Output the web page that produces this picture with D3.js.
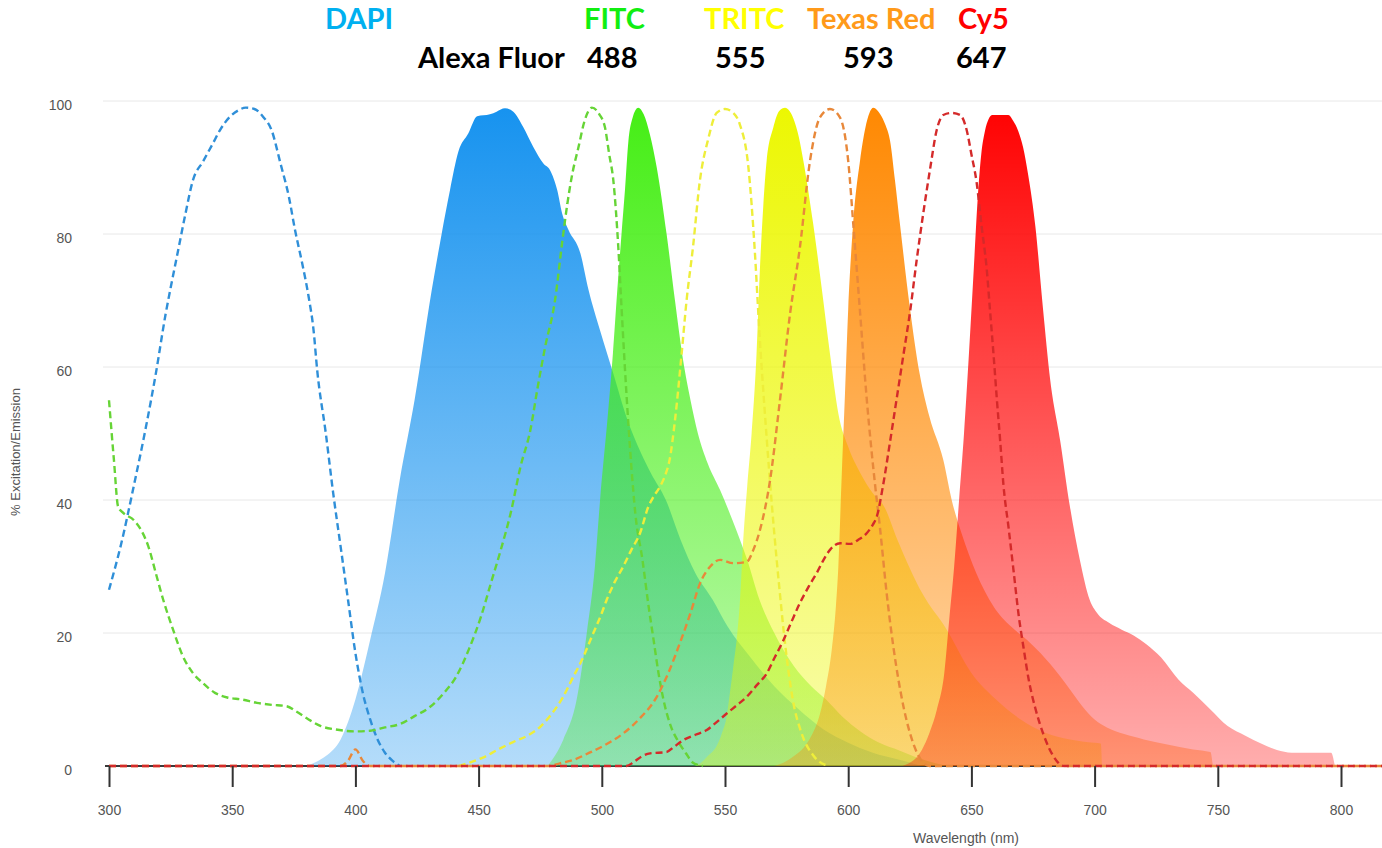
<!DOCTYPE html>
<html>
<head>
<meta charset="utf-8">
<script src="https://cdn.jsdelivr.net/npm/d3@7"></script>
<style>
  body { margin: 0; background: #fff; }
  svg { display: block; font-family: "Liberation Sans", Arial, sans-serif; }
  .head { font-family: Lato, "Open Sans", sans-serif; font-weight: 700; font-size: 29px; }
</style>
</head>
<body>
<svg id="chart" width="1382" height="848"></svg>
<script>
// [wavelength nm, % excitation]
const dapiEx = [[300,26.5],[305,33.5],[310,42],[315,51],[319,59],[323,68],[325.6,73],[328.3,78],[331,83],[334,88],[338.3,91],[342,93.5],[345,95.6],[349,97.6],[352.5,98.6],[355.5,99],[359,98.8],[362.6,97.6],[366,95.6],[369.6,90.6],[373,85.6],[375.5,80.6],[378.4,75.6],[381,70.6],[383,65.6],[384.5,59.5],[388,50],[391,41],[394,33],[397,25],[400,17],[403,11],[406,7],[409,4],[412,2],[415,0.8],[418,0]];
const fitcEx = [[300,55],[302,46],[303.7,39],[306,38],[310,37],[313,35.5],[316,33],[319,29],[322,25],[326,20.5],[330,16.5],[334,14],[338,12.5],[343,11],[348,10.3],[354,10],[360,9.5],[366,9.2],[372,9],[376,8.2],[381,7],[386,6],[392,5.5],[400,5.2],[406,5.3],[412,5.8],[418,6.3],[424,7.5],[430,8.8],[436,11],[441,13.5],[446,17.5],[451,22.5],[455,27.5],[459,32.5],[463,38],[467,45],[471,50.5],[474,57],[477,63],[481,70],[484,79],[486,84.5],[488,89],[490.5,93],[493,97],[496,99],[499,98],[501.3,96],[503,92],[504.7,88],[506.7,78],[508,69],[510,56],[512,45],[513.6,38],[516.5,31],[519,24],[521,19],[523,14],[525,10],[528,6],[531,3.7],[534,2],[537,0.5],[541,0]];
const tritcEx = [[442,0],[447,0.6],[452,1.3],[458,2.5],[464,3.6],[470,4.6],[475,5.9],[480,8],[484,10.2],[488.4,13.4],[492,16],[496,19.5],[500,23],[502,25],[505,27.5],[508.7,30],[512,32.5],[515.5,35],[518.9,39],[521,40.5],[523.6,42],[526,44],[527.5,46],[529.7,52],[532.4,62],[534.4,70],[537,78],[539.8,88],[543.2,94.3],[546.6,98.2],[550,98.8],[553.4,98.2],[556,96.5],[559.5,90],[562,78],[564,65],[566,54],[568,44],[570,35],[572,27],[574.5,18],[577.5,10],[581,5],[586,1.5],[592,0]];
const texasRedEx = [[300,0],[394,0],[397,0.8],[400,2.5],[403,0.8],[406,0],[478,0],[483,0.4],[488.4,0.9],[495,2],[502,3.3],[508.7,4.9],[515,7],[522.3,10.4],[527,14],[531.7,18.5],[536,23],[539.9,27.5],[544,30],[548,31],[553.4,30.5],[558.8,30.7],[561.5,32.5],[564.2,35.5],[568.3,43],[572.3,55],[576.4,68],[580.4,78],[584.5,91],[588.5,97.5],[592.6,98.8],[596.7,97.5],[600,91],[602.1,81.3],[604.8,68.3],[607.5,55.3],[610.9,42.3],[612.9,35.8],[615.6,26],[618.3,18],[622.4,9],[626.4,3.4],[630.5,0.5],[633,0],[817,0]];
const cy5Ex = [[300,0],[510,0],[513,0.6],[516,1.4],[519.6,1.9],[526.3,2.1],[529,2.8],[533.1,3.9],[538,4.7],[542.6,5.4],[546,6.4],[550.7,7.9],[555,9.2],[558.8,10.4],[563,12.2],[566.9,13.9],[570,16.2],[573.7,18.9],[577,21.7],[580.4,24.5],[584,27],[587.2,29],[590,31],[592.6,32.5],[596.7,33.5],[600.7,33.4],[604,34],[607.5,35],[610,36.3],[611.6,37.5],[614.2,42.3],[617,48.8],[619.7,55.3],[622.4,61.8],[625.1,68.3],[627.8,76.1],[630.5,83.2],[633.2,89.7],[635.9,95.6],[638.6,97.9],[642,98.2],[645.4,97.9],[648.1,95.6],[650,92],[652.1,87.8],[654.1,81.3],[656.2,74.8],[657.6,68.3],[659,61.8],[660.3,55.3],[661.7,48.8],[663,42.3],[665.1,35.8],[667.1,29.4],[669.1,22.9],[671.2,17.7],[673.2,13.1],[676,8.6],[679.3,4.7],[683.4,1.4],[687.5,0],[817,0]];

// [wavelength nm, % emission]
const dapiEm = [[380,0],[384,0.6],[388,1.5],[394,4],[400,10],[406,19],[412,29],[418,43],[424,55],[431,71.6],[435,80],[438.4,86.6],[441.8,92.4],[445.8,95.1],[449.4,97.7],[454.6,98],[457.3,98.4],[460.7,98.9],[464.1,98.4],[468.1,96.1],[472.2,93.1],[476.3,90.6],[479,89.6],[481.9,86.6],[483.9,83.1],[486.5,80.6],[491.3,77.1],[494.6,71.6],[499.3,65.5],[504.7,59],[510,52.5],[516,47],[520,44],[526,40],[532,34],[538,29],[545,25],[551,21],[560,16.5],[570,12],[580,8.5],[590,5.5],[600,3.5],[610,2],[620,1],[630,0]];
const fitcEm = [[478,0],[480,1],[484.4,4],[489.8,10],[493.9,20],[497.2,30],[499.3,40],[502.5,53],[504.5,62],[506.3,71.6],[508,80],[509.4,86.6],[510.8,94],[512.5,97.5],[514.8,99],[517,98],[519.5,95],[522.3,90],[526.3,80],[529.7,70],[533,61],[536,55],[539,50],[543,45.5],[548,41.5],[553,37],[559,31],[564,25],[570,20],[578,15],[585,12],[591,10],[598,7.3],[605,5.2],[612,3.6],[621,2.3],[630,1],[640,0]];
const tritcEm = [[538,0],[540,0.4],[543,1.5],[546.6,3],[548.8,5],[550.7,7.5],[552,11],[553.4,15],[555,20],[556.1,25],[557.4,34],[559,42],[560.8,50],[562.8,62],[564.2,75],[565.5,84],[566.9,91],[569.6,96],[572,98.5],[574.4,99],[577,98],[580,94.5],[581.8,91],[585.8,81.5],[589.2,72],[592.6,62],[596,53],[600,48],[605,44],[610,41],[614.6,39],[620,34],[630,26],[640,20.5],[650,14],[660,10],[670,7],[680,5],[690,4],[700,3.5],[702.5,3.4],[703,0]];
const texasRedEm = [[570,0],[573.7,0.5],[578,1.5],[581.8,2.7],[585,4.5],[588.5,7.8],[591,12],[593.3,17.4],[595,24],[596,30],[597.3,43],[598.7,56],[600,68.7],[602,81.5],[604.8,91],[607,96],[610.2,99],[613,98],[615,96.5],[617,94],[619,88],[621,81.5],[625,69],[629,59],[633,52.5],[638.6,46],[642,40],[646,35],[652,29],[659,24],[666,21],[672.5,19],[678,17],[686,13.5],[690,11.5],[695,9],[700,7],[705,5.8],[712,4.8],[720,4],[730,3.2],[740,2.5],[747,2.1],[748,0]];
const cy5Em = [[622,0],[624,0.3],[627,1],[630,2.5],[633,5],[636,8.5],[639,14],[641,22],[643,30],[645,40],[647,50],[649,62],[651,75],[652.5,85],[654,92],[655.5,95.5],[657,97.3],[658.5,97.9],[665,97.9],[667,97],[669,95.5],[671,93],[673,89],[676,81],[679,69],[682,58],[686,49],[690,39],[694,31],[698,25],[701,23],[706,21.5],[711,20.5],[716,19.6],[721,18.3],[727,16.3],[734,13],[740,11],[747,8.5],[754,6],[761,4.6],[768,3.3],[774,2.4],[780,2],[796,2],[797.5,0]];

const xTicks = [300, 350, 400, 450, 500, 550, 600, 650, 700, 750, 800];
const yTicks = [0, 20, 40, 60, 80, 100];
const dyeNames = ["DAPI", "FITC", "TRITC", "Texas Red", "Cy5"];
const alexaNames = ["Alexa Fluor", "488", "555", "593", "647"];

const svg = d3.select("#chart");

const x = d3.scaleLinear().domain([300, 800]).range([109, 1341]);
const y = d3.scaleLinear().domain([0, 100]).range([766, 101]);

// gridlines
svg.append("g")
  .selectAll("line")
  .data(yTicks.filter(d => d > 0))
  .join("line")
  .attr("x1", 103).attr("x2", 1382)
  .attr("y1", d => y(d)).attr("y2", d => y(d))
  .attr("stroke", "#e8e8e8").attr("stroke-width", 1);

// y tick labels (no axis line in the original)
svg.append("g")
  .selectAll("text")
  .data(yTicks)
  .join("text")
  .attr("x", 72)
  .attr("y", d => y(d) + 9)
  .attr("text-anchor", "end")
  .attr("font-size", 14)
  .attr("fill", "#555")
  .text(d => d);

// baseline
svg.append("line")
  .attr("x1", 105).attr("x2", 1382)
  .attr("y1", y(0)).attr("y2", y(0))
  .attr("stroke", "#3a3a3a").attr("stroke-width", 2);

const defs = svg.append("defs");

const emissions = [
  {data: dapiEm, color: "#1592ef"},
  {data: fitcEm, color: "#44ee14"},
  {data: tritcEm, color: "#ecf700"},
  {data: texasRedEm, color: "#ff8800"},
  {data: cy5Em, color: "#ff0000"}
];

const excitations = [
  {data: dapiEx, color: "#2f8fd8"},
  {data: fitcEx, color: "#66d436"},
  {data: tritcEx, color: "#eeee3a"},
  {data: texasRedEx, color: "#e8883a"},
  {data: cy5Ex, color: "#d42a2a"}
];

emissions.forEach((s, i) => {
  const g = defs.append("linearGradient")
    .attr("id", "em" + i)
    .attr("gradientUnits", "userSpaceOnUse")
    .attr("x1", 0).attr("x2", 0)
    .attr("y1", y(100)).attr("y2", y(0));
  g.append("stop").attr("offset", 0).attr("stop-color", s.color).attr("stop-opacity", 1);
  g.append("stop").attr("offset", 1).attr("stop-color", s.color).attr("stop-opacity", 0.32);
});

const area = d3.area()
  .x(d => x(d[0]))
  .y0(y(0))
  .y1(d => y(d[1]))
  .curve(d3.curveMonotoneX);

const line = d3.line()
  .x(d => x(d[0]))
  .y(d => y(d[1]))
  .curve(d3.curveMonotoneX);

svg.append("g")
  .selectAll("path")
  .data(emissions)
  .join("path")
  .attr("d", d => area(d.data))
  .attr("fill", (d, i) => "url(#em" + i + ")");

svg.append("g")
  .selectAll("path")
  .data(excitations)
  .join("path")
  .attr("d", d => line(d.data))
  .attr("fill", "none")
  .attr("stroke", d => d.color)
  .attr("stroke-width", 2.4)
  .attr("stroke-dasharray", "7,4");

// x axis ticks and labels
const xAxis = d3.axisBottom(x)
  .tickValues(xTicks)
  .tickSize(21)
  .tickPadding(18)
  .tickSizeOuter(0);

const gx = svg.append("g")
  .attr("transform", "translate(0," + y(0) + ")")
  .call(xAxis);
gx.select(".domain").remove();
gx.selectAll(".tick line").attr("stroke", "#333").attr("stroke-width", 2);
gx.selectAll(".tick text")
  .attr("fill", "#555")
  .attr("font-size", 14)
  .attr("font-family", "'Liberation Sans', Arial, sans-serif");

svg.append("text")
  .attr("x", 966).attr("y", 843)
  .attr("text-anchor", "middle")
  .attr("font-size", 14)
  .attr("fill", "#555")
  .text("Wavelength (nm)");

svg.append("text")
  .attr("transform", "translate(20,452) rotate(-90)")
  .attr("text-anchor", "middle")
  .attr("font-size", 13)
  .attr("fill", "#555")
  .text("% Excitation/Emission");

// header rows
const dyeX = [325, 584, 704, 807, 958];
const dyeColor = ["#00b0f0", "#11ee11", "#ffff00", "#ff9a1a", "#ff0000"];
svg.append("g")
  .selectAll("text")
  .data(dyeNames)
  .join("text")
  .attr("class", "head")
  .attr("x", (d, i) => dyeX[i])
  .attr("y", 29)
  .attr("fill", (d, i) => dyeColor[i])
  .text(d => d);

const alexaX = [418, 587, 715, 843, 956];
svg.append("g")
  .selectAll("text")
  .data(alexaNames)
  .join("text")
  .attr("class", "head")
  .attr("x", (d, i) => alexaX[i])
  .attr("y", 68)
  .attr("fill", "#000")
  .text(d => d);
</script>
</body>
</html>
